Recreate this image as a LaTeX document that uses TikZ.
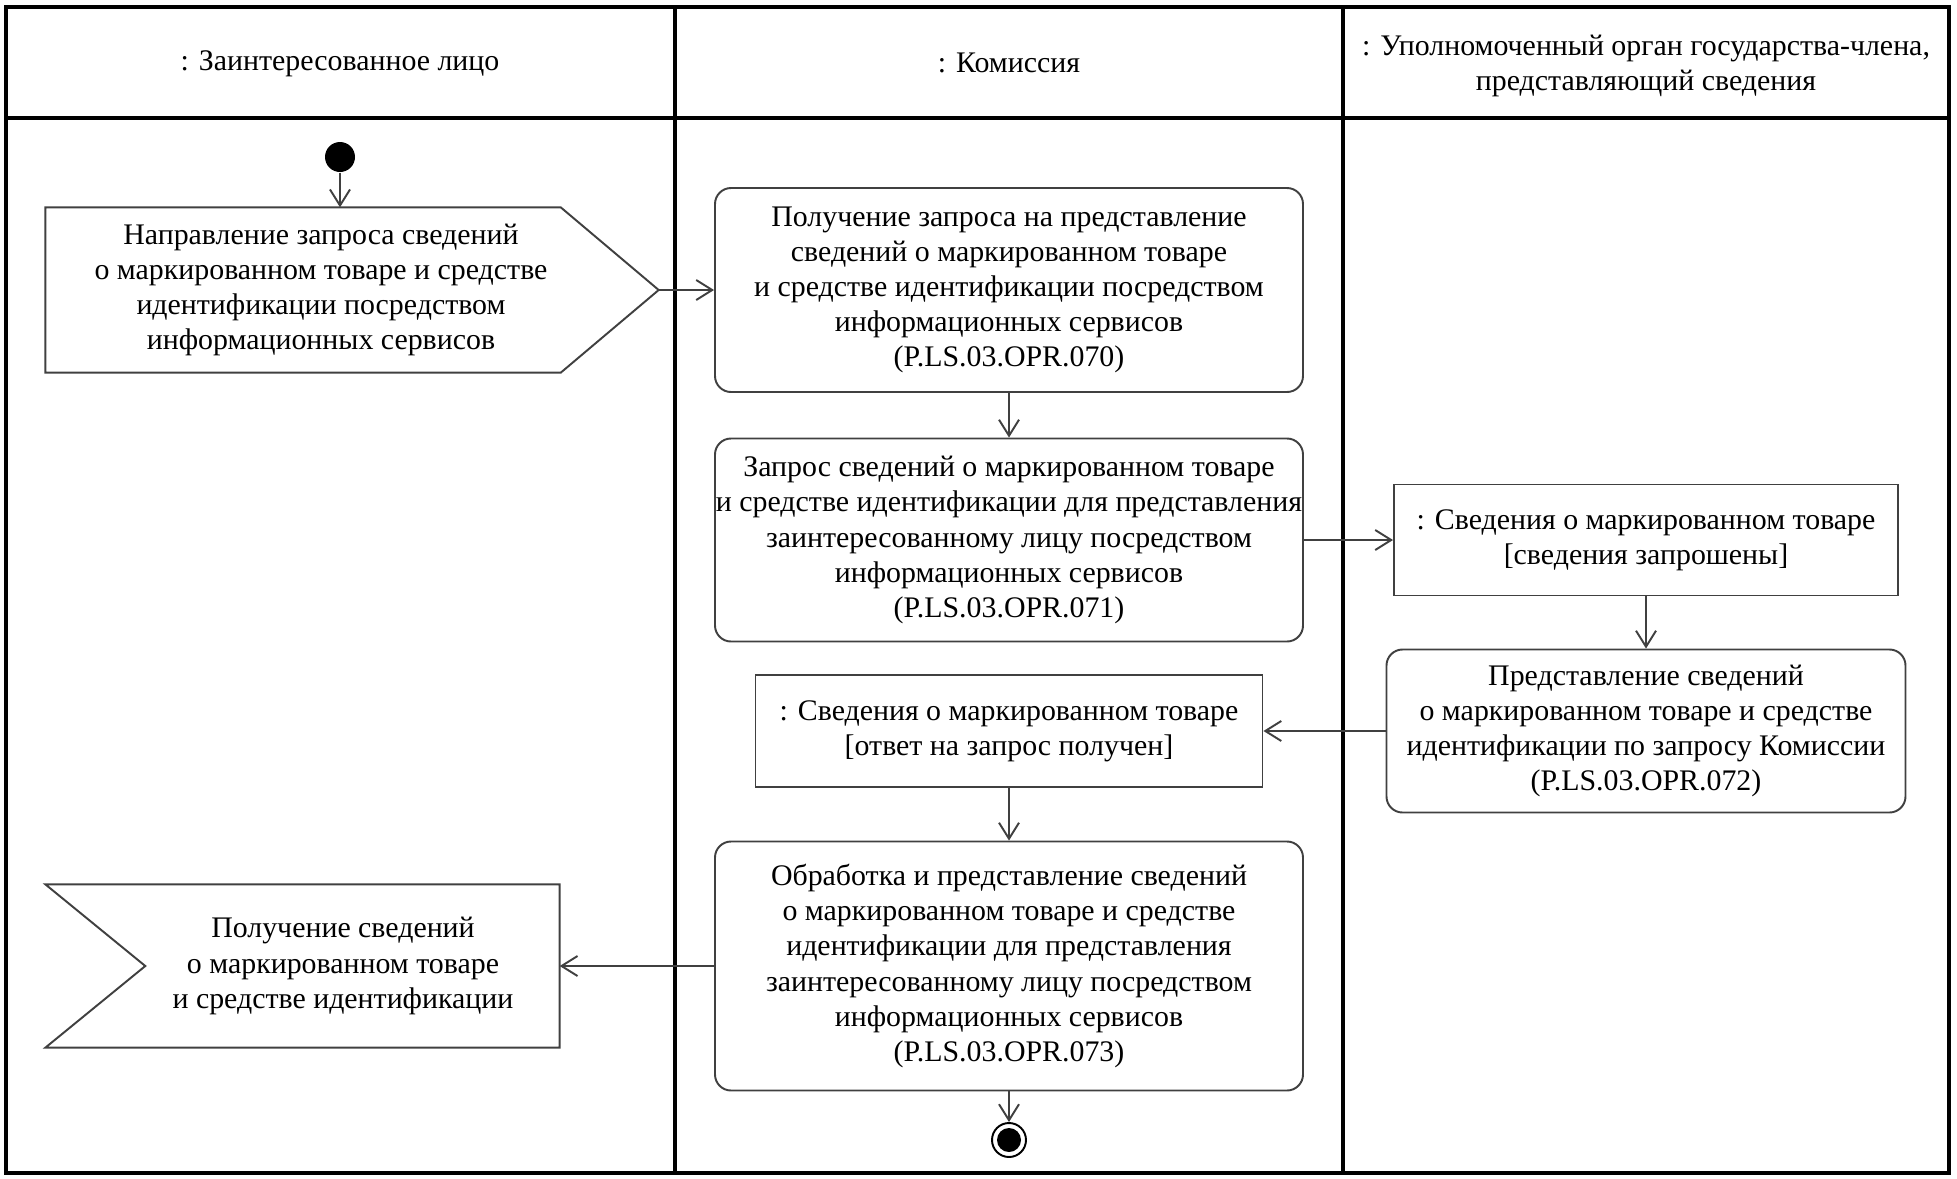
\documentclass[tikz,border=0pt]{standalone}
\usepackage{fontspec}
\setmainfont{Liberation Serif}
\usetikzlibrary{arrows.meta,positioning}
\begin{document}
\begin{tikzpicture}[x=0.1mm,y=-0.1mm,>={Straight Barb[length=1.6mm,width=2mm]},
    font=\fontsize{8.5}{10}\selectfont,
    act/.style={draw=black!75,line width=0.55pt,rounded corners=1.6mm,align=center,inner sep=0pt},
    obj/.style={draw=black!75,line width=0.55pt,align=center,inner sep=0pt},
    lbl/.style={align=center,inner sep=0pt},
    flow/.style={->,draw=black!75,line width=0.55pt}]
\useasboundingbox (0,0) rectangle (1957,1179);
\draw[line width=0.9pt] (6,7) rectangle (1949,1173);
\draw[line width=0.9pt] (6,118)--(1949,118) (675,7)--(675,1173) (1343,7)--(1343,1173);
\node[lbl] (lane1) at (340,64) {: Заинтересованное лицо};
\node[lbl] (lane2) at (1009,63) {: Комиссия};
\node[lbl] (lane3) at (1646,66) {: Уполномоченный орган государства-члена,\\представляющий сведения};
\node[circle,fill,minimum size=3mm,inner sep=0pt] (start) at (340,157) {};
\node[lbl,minimum width=55mm,minimum height=16.4mm] (send) at (321,290) {Направление запроса сведений\\о маркированном товаре и средстве\\идентификации посредством\\информационных сервисов};
\draw[draw=black!75,line width=0.55pt] (send.north west)--([xshift=-3.6mm]send.north east)--([xshift=6.2mm]send.east)coordinate(sendtip)--([xshift=-3.6mm]send.south east)--(send.south west)--cycle;
\node[act,minimum width=58.8mm,minimum height=20.4mm] (act070) at (1009,290) {Получение запроса на представление\\сведений о маркированном товаре\\и средстве идентификации посредством\\информационных сервисов\\(P.LS.03.OPR.070)};
\node[act,minimum width=58.8mm,minimum height=20.3mm] (act071) at (1009,540) {Запрос сведений о маркированном товаре\\и средстве идентификации для представления\\заинтересованному лицу посредством\\информационных сервисов\\(P.LS.03.OPR.071)};
\node[obj,minimum width=50.4mm,minimum height=11.1mm] (obj1) at (1646,540) {: Сведения о маркированном товаре\\{}[сведения запрошены]};
\node[act,minimum width=51.9mm,minimum height=16.3mm] (act072) at (1646,731) {Представление сведений\\о маркированном товаре и средстве\\идентификации по запросу Комиссии\\(P.LS.03.OPR.072)};
\node[obj,minimum width=50.7mm,minimum height=11.2mm] (obj2) at (1009,731) {: Сведения о маркированном товаре\\{}[ответ на запрос получен]};
\node[act,minimum width=58.8mm,minimum height=24.9mm] (act073) at (1009,966) {Обработка и представление сведений\\о маркированном товаре и средстве\\идентификации для представления\\заинтересованному лицу посредством\\информационных сервисов\\(P.LS.03.OPR.073)};
\node[lbl,minimum width=43.2mm,minimum height=16.2mm] (recv) at (343,966) {Получение сведений\\о маркированном товаре\\и средстве идентификации};
\draw[draw=black!75,line width=0.55pt] (recv.north east)--(recv.south east)--([xshift=-8.1mm]recv.south west)--([xshift=1.9mm]recv.west)--([xshift=-8.1mm]recv.north west)--cycle;
\node[circle,draw,line width=0.55pt,minimum size=3.4mm,inner sep=0pt] (end) at (1009,1140) {};
\fill (end) circle (1.2mm);
\draw[flow] (start)--(start|-send.north);
\draw[flow] (sendtip)--(act070);
\draw[flow] (act070)--(act071);
\draw[flow] (act071)--(obj1);
\draw[flow] (obj1)--(act072);
\draw[flow] (act072)--(obj2);
\draw[flow] (obj2)--(act073);
\draw[flow] (act073)--(recv);
\draw[flow] (act073)--(end);
\end{tikzpicture}
\end{document}
